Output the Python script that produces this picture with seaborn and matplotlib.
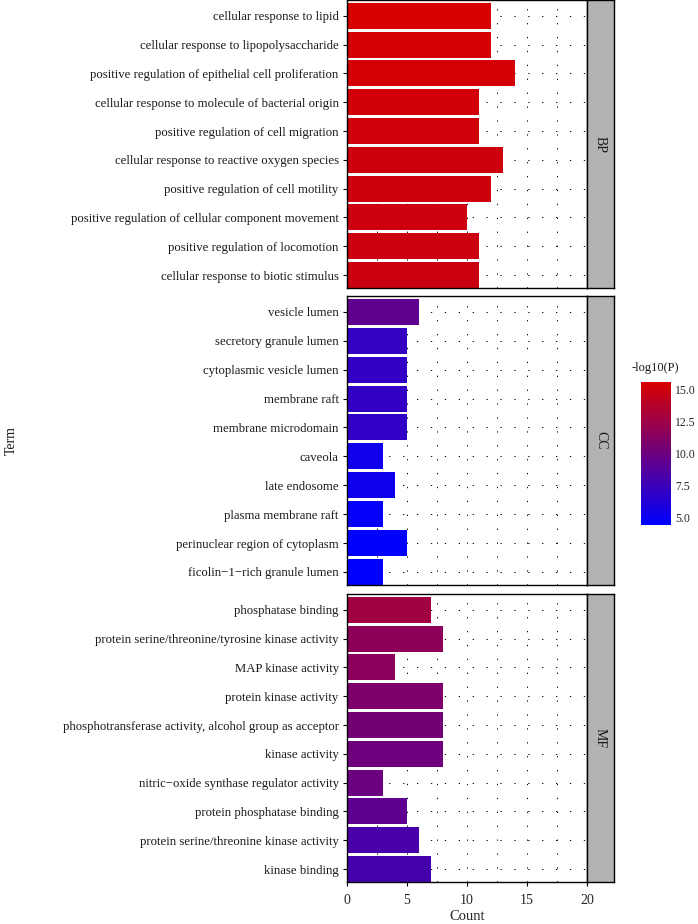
import numpy as np
import pandas as pd
import matplotlib
matplotlib.use("Agg")
import matplotlib.pyplot as plt
import seaborn as sns
from matplotlib.colors import LinearSegmentedColormap, Normalize
from matplotlib.cm import ScalarMappable

# ---------------- data ----------------
bp_terms = ["cellular response to lipid",
            "cellular response to lipopolysaccharide",
            "positive regulation of epithelial cell proliferation",
            "cellular response to molecule of bacterial origin",
            "positive regulation of cell migration",
            "cellular response to reactive oxygen species",
            "positive regulation of cell motility",
            "positive regulation of cellular component movement",
            "positive regulation of locomotion",
            "cellular response to biotic stimulus"]
bp_count = [12, 12, 14, 11, 11, 13, 12, 10, 11, 11]
bp_logp = [15.5, 15.4, 15.3, 15.2, 15.1, 15.0, 15.0, 14.9, 14.9, 14.8]

cc_terms = ["vesicle lumen",
            "secretory granule lumen",
            "cytoplasmic vesicle lumen",
            "membrane raft",
            "membrane microdomain",
            "caveola",
            "late endosome",
            "plasma membrane raft",
            "perinuclear region of cytoplasm",
            "ficolin\u22121\u2212rich granule lumen"]
cc_count = [6, 5, 5, 5, 5, 3, 4, 3, 5, 3]
cc_logp = [9.3, 7.1, 7.0, 7.0, 6.9, 5.3, 5.1, 4.7, 4.5, 4.4]

mf_terms = ["phosphatase binding",
            "protein serine/threonine/tyrosine kinase activity",
            "MAP kinase activity",
            "protein kinase activity",
            "phosphotransferase activity, alcohol group as acceptor",
            "kinase activity",
            "nitric\u2212oxide synthase regulator activity",
            "protein phosphatase binding",
            "protein serine/threonine kinase activity",
            "kinase binding"]
mf_count = [7, 8, 4, 8, 8, 8, 3, 5, 6, 7]
mf_logp = [12.7, 11.7, 11.5, 10.9, 10.4, 10.1, 9.9, 9.2, 8.2, 8.0]

categories = ["BP", "CC", "MF"]
x_ticks = [0, 5, 10, 15, 20]
cbar_ticks = [5.0, 7.5, 10.0, 12.5, 15.0]

df = pd.DataFrame({
    "Term": bp_terms + cc_terms + mf_terms,
    "Count": bp_count + cc_count + mf_count,
    "logP": bp_logp + cc_logp + mf_logp,
    "Category": ["BP"] * len(bp_terms) + ["CC"] * len(cc_terms) + ["MF"] * len(mf_terms),
})

# ---------------- style ----------------
sns.set_theme(style="white")
plt.rcParams["font.family"] = ["Liberation Serif", "DejaVu Serif"]

cmap = LinearSegmentedColormap.from_list("bluered", ["#0000FF", "#D80000"])
norm = Normalize(vmin=4.4, vmax=15.55)

W, H = 698, 924
fig = plt.figure(figsize=(W / 100, H / 100), dpi=100)

panel_px = [(0, 288), (296, 585), (594, 882)]
left_px, right_px, strip_px = 347, 587, 614

def fx(px):
    return px / W

def fy(py):
    return 1 - py / H

grid_ls = (0, (1.3, 13))
for i, cat in enumerate(categories):
    top, bot = panel_px[i]
    ax = fig.add_axes([fx(left_px), fy(bot), fx(right_px - left_px), (bot - top) / H])
    sub = df[df["Category"] == cat].reset_index(drop=True)
    pal = {t: cmap(norm(v)) for t, v in zip(sub["Term"], sub["logP"])}
    for xv in np.arange(2.5, 20, 2.5):
        ax.axvline(xv, color="black", lw=0.7, ls=grid_ls, zorder=0)
    for yv in range(len(sub)):
        ax.axhline(yv, color="black", lw=0.7, ls=grid_ls, zorder=0)
    sns.barplot(data=sub, x="Count", y="Term", hue="Term", palette=pal,
                order=list(sub["Term"]), hue_order=list(sub["Term"]),
                width=0.9, legend=False, ax=ax, orient="h", saturation=1,
                edgecolor="none", linewidth=0, zorder=2)
    ax.set_xlim(0, 20)
    ax.set_ylim(len(sub) - 0.55, -0.55)
    ax.set_xlabel("")
    ax.set_ylabel("")
    ax.tick_params(axis="y", which="major", length=3, width=0.8, color="black",
                   labelsize=9.2, pad=3, left=True)
    for lab in ax.get_yticklabels():
        lab.set_color("#1a1a1a")
    for sp in ax.spines.values():
        sp.set_color("black")
        sp.set_linewidth(1.0)
    ax.set_xticks(x_ticks)
    if i < 2:
        ax.tick_params(axis="x", bottom=False, labelbottom=False)
    else:
        ax.set_xticklabels([str(t) for t in x_ticks])
        ax.tick_params(axis="x", bottom=True, length=3, width=0.8, color="black",
                       labelsize=10, pad=6)
        ax.set_xlabel("Count", fontsize=10.5, labelpad=2)
    # strip
    sax = fig.add_axes([fx(right_px), fy(bot), fx(strip_px - right_px), (bot - top) / H])
    sax.set_facecolor("#B3B3B3")
    sax.set_xticks([])
    sax.set_yticks([])
    for sp in sax.spines.values():
        sp.set_color("black")
        sp.set_linewidth(1.0)
    sax.text(0.5, 0.5, cat, rotation=-90, ha="center", va="center",
             fontsize=10, color="#1a1a1a", transform=sax.transAxes)

fig.text(fx(11), fy(441), "Term", rotation=90, ha="center", va="center",
         fontsize=10, color="#1a1a1a")

# colorbar
cax = fig.add_axes([fx(641), fy(525), fx(30), 143 / H])
sm = ScalarMappable(norm=norm, cmap=cmap)
cb = fig.colorbar(sm, cax=cax)
cb.outline.set_visible(False)
cb.set_ticks(cbar_ticks)
cb.set_ticklabels([f"{t:.1f}" for t in cbar_ticks])
cax.yaxis.set_ticks_position("both")
cax.tick_params(axis="y", direction="in", color="white", length=5, width=1,
                labelsize=8.5, labelright=True, labelleft=False, pad=3)
fig.text(fx(632), fy(368), "-log10(P)", ha="left", va="center", fontsize=9,
         color="#1a1a1a")

fig.savefig("out.png", dpi=100)
